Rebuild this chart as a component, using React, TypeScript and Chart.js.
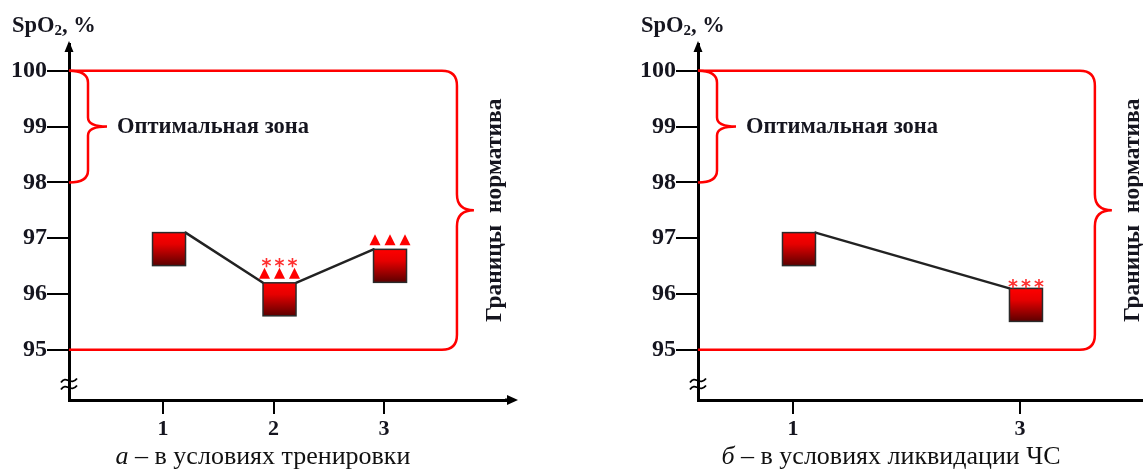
import React, { useEffect, useRef } from "react";
import { Chart, registerables } from "chart.js";

Chart.register(...registerables);

// ---------- data ----------
const yTickValues = [95, 96, 97, 98, 99, 100];
const normRange = [95, 100];
const optimalRange = [98, 100];

const stagesA = [1, 2, 3];
const spo2A = [97.1, 96.2, 96.8];
const trianglesA = [0, 3, 3];
const asterisksA = [0, 3, 0];

const stagesB = [1, 3];
const spo2B = [97.1, 96.1];
const trianglesB = [0, 0];
const asterisksB = [0, 3];

const axisTitle = ["SpO", "2", ", %"];
const optimalLabel = "Оптимальная зона";
const normLabel = "Границы  норматива";
const captionA = ["а", " – в условиях тренировки"];
const captionB = ["б", " – в условиях ликвидации ЧС"];

const SERIF = "'Liberation Serif', 'Times New Roman', serif";
const TEXT = "#15151f";

type PanelCfg = {
  stages: number[];
  values: number[];
  triangles: number[];
  asterisks: number[];
  left: number;
  canvasWidth: number;
  plotRight: number;
  xMin: number;
  xMax: number;
  braceX: number;
};

const decorPlugin = {
  id: "decor",
  afterDraw(chart: any, _args: any, opts: any) {
    const cfg: PanelCfg = opts.cfg;
    const { ctx, chartArea: ca, scales } = chart;
    const x = scales.x;
    const y = scales.y;
    const ax = ca.left;
    const ay = ca.bottom;
    ctx.save();

    // axis arrows
    ctx.fillStyle = "#000";
    ctx.beginPath();
    ctx.moveTo(ax, ca.top - 3);
    ctx.lineTo(ax - 4.5, ca.top + 8);
    ctx.lineTo(ax + 4.5, ca.top + 8);
    ctx.closePath();
    ctx.fill();
    ctx.fillRect(ca.right - 2, ay - 1.5, 4, 3);
    ctx.beginPath();
    ctx.moveTo(ca.right + 11, ay);
    ctx.lineTo(ca.right, ay - 5);
    ctx.lineTo(ca.right, ay + 5);
    ctx.closePath();
    ctx.fill();

    // axis break mark
    const yb = ay - 16;
    ctx.strokeStyle = "#000";
    ctx.lineWidth = 1.8;
    for (const k of [-3.5, 3.5]) {
      ctx.beginPath();
      ctx.moveTo(ax - 8, yb + k + 2);
      ctx.bezierCurveTo(ax - 3, yb + k - 6, ax + 2, yb + k + 6, ax + 8, yb + k - 2);
      ctx.stroke();
    }

    // norm frame with brace
    const yTop = y.getPixelForValue(normRange[1]);
    const yBot = y.getPixelForValue(normRange[0]);
    const bx = x.getPixelForValue(cfg.braceX);
    const mid = (yTop + yBot) / 2;
    const r = 15;
    ctx.strokeStyle = "#ff0000";
    ctx.lineWidth = 2.5;
    ctx.beginPath();
    ctx.moveTo(ax, yTop);
    ctx.lineTo(bx - r, yTop);
    ctx.quadraticCurveTo(bx, yTop, bx, yTop + r);
    ctx.lineTo(bx, mid - 16);
    ctx.quadraticCurveTo(bx, mid, bx + 17, mid);
    ctx.quadraticCurveTo(bx, mid, bx, mid + 16);
    ctx.lineTo(bx, yBot - r);
    ctx.quadraticCurveTo(bx, yBot, bx - r, yBot);
    ctx.lineTo(ax, yBot);
    ctx.stroke();

    // optimal zone brace
    const o1 = y.getPixelForValue(optimalRange[1]);
    const o0 = y.getPixelForValue(optimalRange[0]);
    const om = (o1 + o0) / 2;
    const bw = 19;
    ctx.beginPath();
    ctx.moveTo(ax, o1);
    ctx.quadraticCurveTo(ax + bw, o1, ax + bw, o1 + 12);
    ctx.lineTo(ax + bw, om - 9);
    ctx.quadraticCurveTo(ax + bw, om, ax + bw + 19, om);
    ctx.quadraticCurveTo(ax + bw, om, ax + bw, om + 9);
    ctx.lineTo(ax + bw, o0 - 12);
    ctx.quadraticCurveTo(ax + bw, o0, ax, o0);
    ctx.stroke();

    // labels
    ctx.fillStyle = TEXT;
    ctx.font = `bold 22.5px ${SERIF}`;
    ctx.textAlign = "left";
    ctx.textBaseline = "middle";
    ctx.fillText(optimalLabel, ax + 48, om + 1);

    ctx.save();
    ctx.translate(bx + 38, mid);
    ctx.rotate(-Math.PI / 2);
    ctx.textAlign = "center";
    ctx.textBaseline = "middle";
    ctx.font = `bold 23.5px ${SERIF}`;
    ctx.fillText(normLabel, 0, 0);
    ctx.restore();

    // axis title
    ctx.textBaseline = "alphabetic";
    ctx.font = `bold 22.5px ${SERIF}`;
    let tx = 12;
    ctx.fillText(axisTitle[0], tx, 32);
    tx += ctx.measureText(axisTitle[0]).width;
    ctx.font = `bold 15px ${SERIF}`;
    ctx.fillText(axisTitle[1], tx, 35);
    tx += ctx.measureText(axisTitle[1]).width;
    ctx.font = `bold 22.5px ${SERIF}`;
    ctx.fillText(axisTitle[2], tx, 32);

    // data marks
    const meta = chart.getDatasetMeta(0);
    const pts = meta.data.map((el: any) => ({ x: el.x + 6, y: el.y }));
    const half = 16.5;
    ctx.strokeStyle = "#222";
    ctx.lineWidth = 2.5;
    ctx.lineCap = "round";
    for (let i = 0; i < pts.length - 1; i++) {
      ctx.beginPath();
      ctx.moveTo(pts[i].x + half, pts[i].y);
      ctx.lineTo(pts[i + 1].x - half, pts[i + 1].y);
      ctx.stroke();
    }
    pts.forEach((p: any, i: number) => {
      const g = ctx.createLinearGradient(0, p.y, 0, p.y + 2 * half);
      g.addColorStop(0, "#ff0000");
      g.addColorStop(0.35, "#e60000");
      g.addColorStop(1, "#5c0000");
      ctx.fillStyle = g;
      ctx.fillRect(p.x - half, p.y, 2 * half, 2 * half);
      ctx.strokeStyle = "#2a2a2a";
      ctx.lineWidth = 1.5;
      ctx.strokeRect(p.x - half, p.y, 2 * half, 2 * half);

      let top = p.y;
      const nt = cfg.triangles[i];
      if (nt > 0) {
        const base = p.y - 4;
        ctx.fillStyle = "#ff0000";
        for (let k = 0; k < nt; k++) {
          const cx = p.x + (k - (nt - 1) / 2) * 15;
          ctx.beginPath();
          ctx.moveTo(cx, base - 11);
          ctx.lineTo(cx - 5.5, base);
          ctx.lineTo(cx + 5.5, base);
          ctx.closePath();
          ctx.fill();
        }
        top = base - 11;
      }
      const na = cfg.asterisks[i];
      if (na > 0) {
        const cy = top - 6;
        ctx.fillStyle = "#ff3030";
        ctx.font = `bold 19px 'DejaVu Sans', sans-serif`;
        ctx.textAlign = "center";
        ctx.textBaseline = "alphabetic";
        for (let k = 0; k < na; k++) {
          const cx = p.x + (k - (na - 1) / 2) * 13;
          ctx.fillText("*", cx, cy + 10.5);
        }
      }
    });
    ctx.restore();
  },
};

function Panel({ cfg }: { cfg: PanelCfg }) {
  const ref = useRef<HTMLCanvasElement>(null);
  useEffect(() => {
    if (!ref.current) return;
    const tickFont = { family: SERIF, weight: "bold" as const };
    const chart = new Chart(ref.current, {
      type: "line",
      data: {
        datasets: [
          {
            data: cfg.stages.map((s, i) => ({ x: s, y: cfg.values[i] })),
            showLine: false,
            pointRadius: 0,
            pointHoverRadius: 0,
          },
        ],
      },
      options: {
        animation: false,
        responsive: false,
        devicePixelRatio: 1,
        events: [],
        layout: {
          padding: { left: 0, right: cfg.canvasWidth - cfg.plotRight, top: 44, bottom: 0 },
        },
        plugins: {
          legend: { display: false },
          tooltip: { enabled: false },
          decor: { cfg },
        } as any,
        scales: {
          x: {
            type: "linear",
            min: cfg.xMin,
            max: cfg.xMax,
            afterBuildTicks: (s: any) => {
              s.ticks = cfg.stages.map((v) => ({ value: v }));
            },
            afterFit: (s: any) => {
              s.height = 70;
            },
            grid: { drawOnChartArea: false, drawTicks: true, tickLength: 14, color: "#000", lineWidth: 2 },
            border: { display: true, color: "#000", width: 3 },
            ticks: {
              autoSkip: false,
              maxRotation: 0,
              padding: 2,
              color: TEXT,
              font: { ...tickFont, size: 22 },
              callback: (v: any) => String(v),
            },
          },
          y: {
            type: "linear",
            min: 94.1,
            max: 100.48,
            afterBuildTicks: (s: any) => {
              s.ticks = yTickValues.map((v) => ({ value: v }));
            },
            afterFit: (s: any) => {
              s.width = 69;
            },
            grid: { drawOnChartArea: false, drawTicks: true, tickLength: 22, color: "#000", lineWidth: 2 },
            border: { display: true, color: "#000", width: 3 },
            ticks: {
              autoSkip: false,
              padding: 0,
              color: TEXT,
              font: { ...tickFont, size: 24 },
              callback: (v: any) => String(v),
            },
          },
        },
      } as any,
      plugins: [decorPlugin],
    });
    return () => chart.destroy();
  }, []);
  return (
    <canvas
      ref={ref}
      width={cfg.canvasWidth}
      height={470}
      style={{ position: "absolute", left: cfg.left, top: 0, width: cfg.canvasWidth, height: 470 }}
    />
  );
}

const panelA: PanelCfg = {
  stages: stagesA,
  values: spo2A,
  triangles: trianglesA,
  asterisks: asterisksA,
  left: 0,
  canvasWidth: 570,
  plotRight: 507,
  xMin: 0.149,
  xMax: 4.113,
  braceX: 3.66,
};

const panelB: PanelCfg = {
  stages: stagesB,
  values: spo2B,
  triangles: trianglesB,
  asterisks: asterisksB,
  left: 629,
  canvasWidth: 540,
  plotRight: 530,
  xMin: 0.163,
  xMax: 4.225,
  braceX: 3.66,
};

function Caption({ parts, center }: { parts: string[]; center: number }) {
  return (
    <div
      style={{
        position: "absolute",
        left: center - 250,
        width: 500,
        top: 443,
        textAlign: "center",
        fontFamily: SERIF,
        fontSize: 26,
        lineHeight: "26px",
        color: "#111",
        whiteSpace: "pre",
      }}
    >
      <i>{parts[0]}</i>
      {parts[1]}
    </div>
  );
}

export default function App() {
  return (
    <div
      style={{
        position: "absolute",
        left: 0,
        top: 0,
        width: 1143,
        height: 470,
        overflow: "hidden",
        background: "#fff",
      }}
    >
      <Panel cfg={panelA} />
      <Panel cfg={panelB} />
      <Caption parts={captionA} center={263} />
      <Caption parts={captionB} center={891} />
    </div>
  );
}
